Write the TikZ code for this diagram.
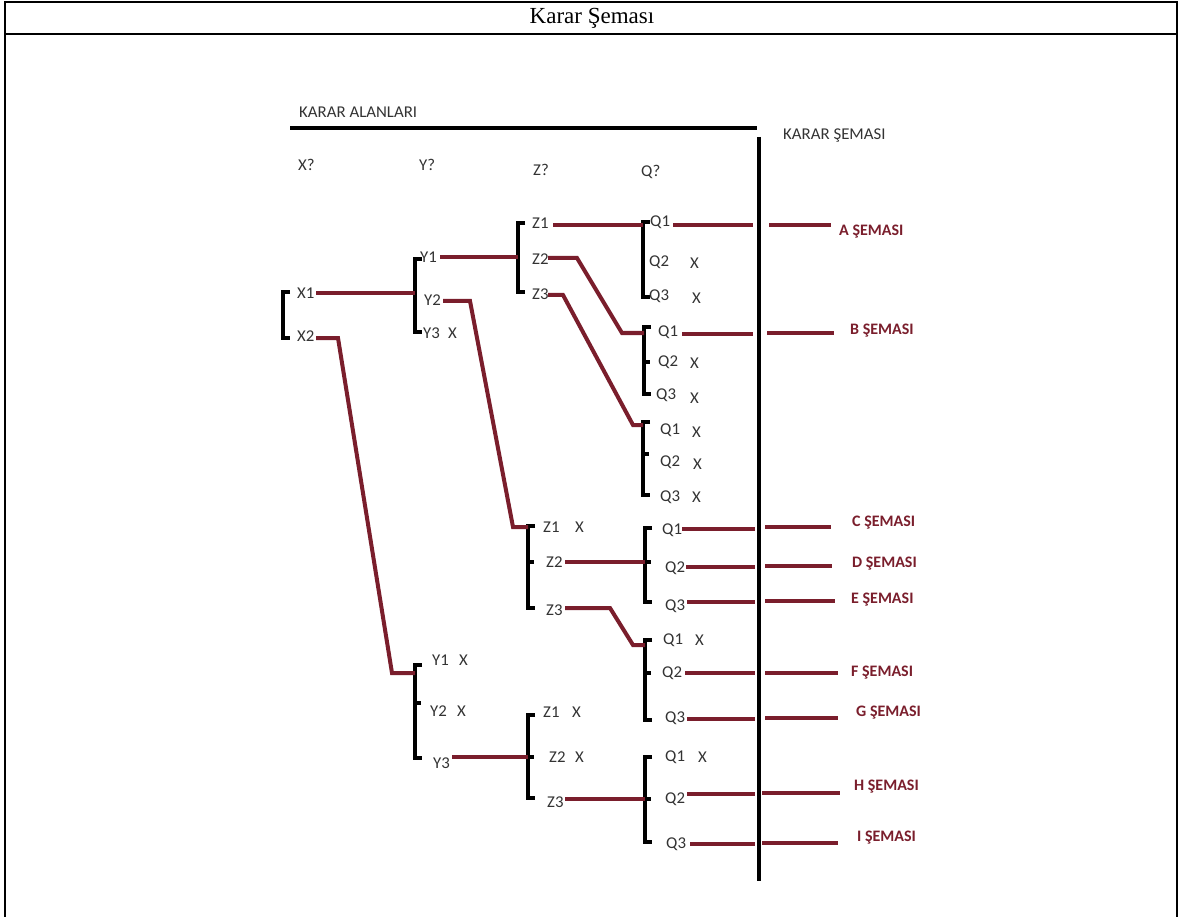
\documentclass[tikz,border=0pt]{standalone}
\usepackage{fontspec}
\setmainfont{Liberation Serif}
\newfontfamily\labf[FakeStretch=1.02]{Carlito}
\newfontfamily\resf{Carlito}
\usetikzlibrary{calc}
\definecolor{maroon}{HTML}{7A1E2C}
\definecolor{labgray}{HTML}{333333}
\begin{document}
\begin{tikzpicture}[x=1pt,y=-1pt,
  lab/.style={font=\labf\fontsize{16.5}{16.5}\selectfont, text=labgray, inner sep=0pt, anchor=west},
  res/.style={font=\resf\bfseries\fontsize{16}{16}\selectfont, text=maroon, inner sep=0pt, anchor=west},
  rl/.style={draw=maroon, line width=4pt, line join=miter},
  brk/.style={draw=black, line width=4pt, line join=miter},
  frame/.style={draw=black, line width=2pt}]
\useasboundingbox (0,0) rectangle (1178,917);
% frame
\draw[frame] (5,917) -- (5,2) -- (1177,2) -- (1177,917);
\draw[frame] (5,34) -- (1177,34);
\node[font=\fontsize{23}{23}\selectfont, inner sep=0pt] (title) at (592,18) {Karar Şeması};

% headers
\node[lab] (hdA) at (299,112) {KARAR ALANLARI};
\node[lab] (hdB) at (783,136) {KARAR ŞEMASI};
\coordinate (tlA) at (290,128);
\coordinate (tlB) at (757,128);
\draw[black, line width=4pt] (tlA) -- (tlB);
\coordinate (vtop) at (759,137);
\coordinate (vbot) at (759,881);
\draw[black, line width=4pt] (vtop) -- (vbot);
\node[lab] (hX) at (298,165) {X?};
\node[lab] (hY) at (419,165) {Y?};
\node[lab] (hZ) at (533,170) {Z?};
\node[lab] (hQ) at (641,172) {Q?};

% ---------- X bracket
\draw[brk] (290,292) -- (283,292) -- (283,338) -- (290,338);
\node[lab] (x1) at (297,293) {X1};
\node[lab] (x2) at (297,336) {X2};

% ---------- upper Y bracket
\draw[brk] (422,259) -- (415,259) -- (415,332) -- (422,332);
\coordinate (yAm) at (415,293);
\node[lab] (ya1) at (420,257) {Y1};
\node[lab] (ya2) at (424,300) {Y2};
\node[lab] (ya3) at (423,333) {Y3};
\node[lab] (ya3x) at (448,333) {X};
\draw[rl] (316,293) -- (yAm);

% ---------- lower Y bracket
\draw[brk] (422,665) -- (415,665) -- (415,758) -- (422,758);
\draw[brk] (415,703) -- (421,703);
\coordinate (yBin) at (415,673);
\node[lab] (yb1) at (432,660) {Y1};
\node[lab] (yb1x) at (459,660) {X};
\node[lab] (yb2) at (430,711) {Y2};
\node[lab] (yb2x) at (457,711) {X};
\node[lab] (yb3) at (433,763) {Y3};
\draw[rl] (316,338) -- (338,338) -- (392,673) -- (yBin);

% ---------- Z bracket A
\draw[brk] (525,223) -- (518,223) -- (518,292) -- (525,292);
\coordinate (zAm) at (518,257);
\node[lab] (za1) at (532,223) {Z1};
\node[lab] (za2) at (532,259) {Z2};
\node[lab] (za3) at (532,294) {Z3};
\draw[rl] (440,257) -- (zAm);

% ---------- Z bracket B
\draw[brk] (535,526) -- (528,526) -- (528,608) -- (535,608);
\draw[brk] (528,562) -- (534,562);
\coordinate (zBin) at (528,527);
\node[lab] (zb1) at (543,527) {Z1};
\node[lab] (zb1x) at (575,527) {X};
\node[lab] (zb2) at (546,562) {Z2};
\node[lab] (zb3) at (546,610) {Z3};
\draw[rl] (443,301) -- (470,301) -- (513,527) -- (zBin);

% ---------- Z bracket C
\draw[brk] (535,715) -- (528,715) -- (528,798) -- (535,798);
\draw[brk] (528,757) -- (534,757);
\coordinate (zCm) at (528,757);
\node[lab] (zc1) at (543,712) {Z1};
\node[lab] (zc1x) at (572,712) {X};
\node[lab] (zc2) at (549,757) {Z2};
\node[lab] (zc2x) at (575,757) {X};
\node[lab] (zc3) at (547,802) {Z3};
\draw[rl] (452,757) -- (zCm);

% ---------- Q bracket A
\draw[brk] (650,222) -- (643,222) -- (643,297) -- (650,297);
\coordinate (qAin) at (643,225);
\node[lab] (qa1) at (650,222) {Q1};
\node[lab] (qa2) at (649,262) {Q2};
\node[lab] (qa2x) at (690,263) {X};
\node[lab] (qa3) at (649,296) {Q3};
\node[lab] (qa3x) at (692,298) {X};
\draw[rl] (553,225) -- (qAin);

% ---------- Q bracket B
\draw[brk] (651,327) -- (644,327) -- (644,394) -- (651,394);
\draw[brk] (644,362) -- (650,362);
\coordinate (qBin) at (644,333);
\node[lab] (qb1) at (658,332) {Q1};
\node[lab] (qb2) at (658,362) {Q2};
\node[lab] (qb2x) at (690,363) {X};
\node[lab] (qb3) at (656,395) {Q3};
\node[lab] (qb3x) at (690,398) {X};
\draw[rl] (548,258) -- (577,258) -- (622,333) -- (qBin);

% ---------- Q bracket C
\draw[brk] (650,422) -- (643,422) -- (643,495) -- (650,495);
\draw[brk] (643,454) -- (649,454);
\coordinate (qCin) at (643,425);
\node[lab] (qc1) at (660,430) {Q1};
\node[lab] (qc1x) at (692,432) {X};
\node[lab] (qc2) at (660,462) {Q2};
\node[lab] (qc2x) at (693,464) {X};
\node[lab] (qc3) at (660,497) {Q3};
\node[lab] (qc3x) at (692,497) {X};
\draw[rl] (548,295) -- (563,295) -- (633,425) -- (qCin);

% ---------- Q bracket D
\draw[brk] (652,528) -- (645,528) -- (645,602) -- (652,602);
\draw[brk] (645,562) -- (651,562);
\coordinate (qDm) at (645,562);
\node[lab] (qd1) at (662,530) {Q1};
\node[lab] (qd2) at (665,568) {Q2};
\node[lab] (qd3) at (665,606) {Q3};
\draw[rl] (565,562) -- (qDm);

% ---------- Q bracket E
\draw[brk] (652,640) -- (645,640) -- (645,720) -- (652,720);
\draw[brk] (645,673) -- (651,673);
\coordinate (qEin) at (645,645);
\node[lab] (qe1) at (663,640) {Q1};
\node[lab] (qe1x) at (695,640) {X};
\node[lab] (qe2) at (662,673) {Q2};
\node[lab] (qe3) at (665,718) {Q3};
\draw[rl] (565,608) -- (610,608) -- (633,645) -- (qEin);

% ---------- Q bracket F
\draw[brk] (652,757) -- (645,757) -- (645,842) -- (652,842);
\draw[brk] (645,799) -- (651,799);
\coordinate (qFm) at (645,799);
\node[lab] (qf1) at (665,757) {Q1};
\node[lab] (qf1x) at (698,757) {X};
\node[lab] (qf2) at (665,799) {Q2};
\node[lab] (qf3) at (666,844) {Q3};
\draw[rl] (565,799) -- (qFm);

% ---------- results
\node[res] (rA) at (839,232) {A ŞEMASI};
\node[res] (rB) at (850,331) {B ŞEMASI};
\node[res] (rC) at (852,523) {C ŞEMASI};
\node[res] (rD) at (852,564) {D ŞEMASI};
\node[res] (rE) at (851,600) {E ŞEMASI};
\node[res] (rF) at (851,673) {F ŞEMASI};
\node[res] (rG) at (856,713) {G ŞEMASI};
\node[res] (rH) at (854,787) {H ŞEMASI};
\node[res] (rI) at (857,838) {I ŞEMASI};

\draw[rl] (673,225) -- (753,225);  \draw[rl] (769,225) -- (831,225);
\draw[rl] (682,334) -- (753,334);  \draw[rl] (767,333) -- (834,333);
\draw[rl] (682,529) -- (755,529);  \draw[rl] (765,527) -- (831,527);
\draw[rl] (686,567) -- (755,567);  \draw[rl] (765,566) -- (832,566);
\draw[rl] (687,602) -- (755,602);  \draw[rl] (765,601) -- (835,601);
\draw[rl] (685,673) -- (755,673);  \draw[rl] (765,673) -- (838,673);
\draw[rl] (687,719) -- (755,719);  \draw[rl] (765,718) -- (838,718);
\draw[rl] (687,794) -- (755,794);  \draw[rl] (762,793) -- (840,793);
\draw[rl] (690,844) -- (755,844);  \draw[rl] (762,843) -- (838,843);
\end{tikzpicture}
\end{document}
